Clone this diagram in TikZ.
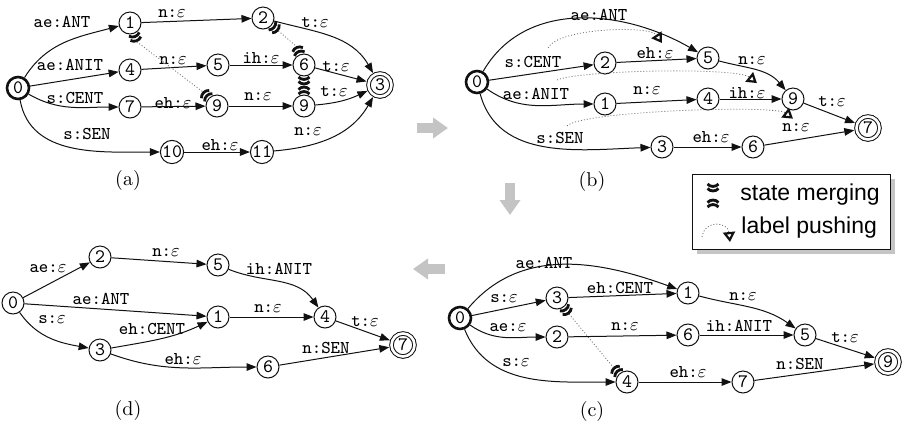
\documentclass[tikz,border=0pt]{standalone}
\usepackage{fontspec}
\newfontfamily\legendfont{Liberation Sans}
\usetikzlibrary{arrows.meta,calc,shadows}
\definecolor{FstInk}{HTML}{111111}
\definecolor{FstGrey}{HTML}{C4C4C4}
\definecolor{FstDots}{HTML}{6E6E6E}

% two bold arcs on the side of a state that gets merged
\newcommand{\statemerge}[2]{%
  \begin{scope}[shift={(#1)},rotate=#2]
    \draw[mergemark] (12,5.5) to[bend left=50] (12,-5.5);
    \draw[mergemark] (16.5,5.5) to[bend left=50] (16.5,-5.5);
  \end{scope}}

\begin{document}
\begin{tikzpicture}[
    x=0.5pt,
    y=0.5pt,
    st/.style={circle, draw=FstInk, line width=0.5pt, minimum size=11pt, inner sep=0pt, font=\fontsize{9.5}{10}\ttfamily},
    initst/.style={st, line width=1.3pt},
    finalst/.style={st, double, double distance=1.3pt, minimum size=11.5pt, outer sep=1.2pt},
    lbl/.style={inner sep=1pt, font=\fontsize{9}{9}\ttfamily},
    trans/.style={-{Triangle[length=5pt,width=3.8pt]}, line width=0.5pt, draw=FstInk},
    mergemark/.style={line width=1.4pt, draw=FstInk},
    mergeline/.style={draw=FstDots, line width=0.4pt, dash pattern=on 0.5pt off 1pt},
    push/.style={mergeline, -{Triangle[open,length=5pt,width=6pt,line width=1.1pt,color=FstInk]}},
    stage/.style={draw=FstGrey, line width=5pt, -{Triangle[length=7.5pt,width=10pt]}},
    panel/.style={inner sep=0pt, font=\fontsize{10}{12}\selectfont},
    legbox/.style={draw=FstInk, line width=0.5pt, fill=white, drop shadow={shadow xshift=2.5pt, shadow yshift=-2.5pt, fill=black!45}},
    legtext/.style={inner sep=0pt, anchor=base west, font=\legendfont\fontsize{11.5}{12}\selectfont}
  ]
  \useasboundingbox (0,0) rectangle (907,-425);

  % (a)
  \node[initst] (a0) at (18,-88) {0};
  \node[st] (a1) at (130,-23) {1};
  \node[st] (a2) at (263,-18) {2};
  \node[st] (a4) at (130,-70) {4};
  \node[st] (a5) at (218,-65) {5};
  \node[st] (a6) at (304,-65) {6};
  \node[st] (a7) at (130,-107) {7};
  \node[st] (a9) at (217,-106) {9};
  \node[st] (a9b) at (304,-106) {9};
  \node[finalst] (a3) at (380,-85) {3};
  \node[st] (a10) at (172,-152) {10};
  \node[st] (a11) at (262,-152) {11};

  \node[lbl] (aAnt) at (62,-22) {ae:ANT};
  \node[lbl] (aAnit) at (70,-65) {ae:ANIT};
  \node[lbl] (aCent) at (75,-98) {s:CENT};
  \node[lbl] (aSen) at (87,-134) {s:SEN};
  \node[lbl] (aN12) at (172,-14) {n:$\varepsilon$};
  \node[lbl] (aN45) at (173,-61) {n:$\varepsilon$};
  \node[lbl] (aEh79) at (173,-103) {eh:$\varepsilon$};
  \node[lbl] (aIh56) at (261,-58) {ih:$\varepsilon$};
  \node[lbl] (aT23) at (315,-23) {t:$\varepsilon$};
  \node[lbl] (aT63) at (336,-67) {t:$\varepsilon$};
  \node[lbl] (aN99) at (258,-97) {n:$\varepsilon$};
  \node[lbl] (aT93) at (334,-92) {t:$\varepsilon$};
  \node[lbl] (aEh1011) at (220,-145) {eh:$\varepsilon$};
  \node[lbl] (aN113) at (308,-132) {n:$\varepsilon$};

  \draw[trans] (a0) to[out=58,in=195] (a1);
  \draw[trans] (a0) -- (a4);
  \draw[trans] (a0) to[out=-30,in=180] (a7);
  \draw[trans] (a0) to[out=-80,in=180] (a10);
  \draw[trans] (a1) -- (a2);
  \draw[trans] (a4) -- (a5);
  \draw[trans] (a7) -- (a9);
  \draw[trans] (a5) -- (a6);
  \draw[trans] (a9) -- (a9b);
  \draw[trans] (a10) -- (a11);
  \draw[trans] (a2) to[out=-15,in=120] (a3);
  \draw[trans] (a6) -- (a3);
  \draw[trans] (a9b) to[out=5,in=205] (a3);
  \draw[trans] (a11) to[out=5,in=-120] (a3);

  \statemerge{a1}{-70}
  \statemerge{a9}{135}
  \draw[mergeline] ($(a1)+(-70:20)$) -- ($(a9)+(135:20)$);
  \statemerge{a2}{-40}
  \statemerge{a6}{112}
  \draw[mergeline] ($(a2)+(-40:20)$) -- ($(a6)+(112:20)$);
  \statemerge{a6}{-90}
  \statemerge{a9b}{90}

  % (b)
  \node[initst] (b0) at (477,-82) {0};
  \node[st] (b2) at (605,-63) {2};
  \node[st] (b1) at (605,-104) {1};
  \node[st] (b5) at (708,-58) {5};
  \node[st] (b4) at (708,-99) {4};
  \node[st] (b9) at (793,-99) {9};
  \node[finalst] (b7) at (868,-128) {7};
  \node[st] (b3) at (662,-147) {3};
  \node[st] (b6) at (753,-147) {6};

  \node[lbl] (bAnt) at (599,-15) {ae:ANT};
  \node[lbl] (bCent) at (533,-62) {s:CENT};
  \node[lbl] (bEh) at (655,-53) {eh:$\varepsilon$};
  \node[lbl] (bAnit) at (536,-94) {ae:ANIT};
  \node[lbl] (bN14) at (647,-91) {n:$\varepsilon$};
  \node[lbl] (bN59) at (752,-61) {n:$\varepsilon$};
  \node[lbl] (bIh) at (747,-93) {ih:$\varepsilon$};
  \node[lbl] (bT97) at (832,-102) {t:$\varepsilon$};
  \node[lbl] (bSen) at (560,-138) {s:SEN};
  \node[lbl] (bEh36) at (711,-137) {eh:$\varepsilon$};
  \node[lbl] (bN67) at (796,-128) {n:$\varepsilon$};

  \draw[trans] (b0) to[out=60,in=150] (b5);
  \draw[trans] (b0) -- (b2);
  \draw[trans] (b0) to[out=-35,in=180] (b1);
  \draw[trans] (b0) to[out=-75,in=182] (b3);
  \draw[trans] (b2) -- (b5);
  \draw[trans] (b1) -- (b4);
  \draw[trans] (b5) to[out=-15,in=130] (b9);
  \draw[trans] (b4) -- (b9);
  \draw[trans] (b9) -- (b7);
  \draw[trans] (b3) -- (b6);
  \draw[trans] (b6) -- (b7);

  \draw[push] ($(bCent.north)+(15,6)$) .. controls +(10,20) and +(-12,18) .. ($(bEh.north)+(7,2)$);
  \draw[push] ($(bAnit.north)+(21,6)$) .. controls +(25,10) and +(-20,16) .. ($(bIh.north)+(10,2)$);
  \draw[push] ($(bSen.north)+(7,4)$) .. controls +(15,15) and +(-18,14) .. ($(bN67.north)+(-3,3)$);

  % legend
  \draw[legbox] (692,-174) rectangle (890,-249);
  \coordinate (lgTop) at (713,-172);
  \coordinate (lgBot) at (713,-219);
  \statemerge{lgTop}{-90}
  \statemerge{lgBot}{90}
  \node[legtext] (lgMerge) at (740,-200) {state merging};
  \coordinate (lgPushA) at (702,-237);
  \coordinate (lgPushB) at (730,-242);
  \draw[push] (lgPushA) .. controls +(3,18) and +(-2,20) .. (lgPushB);
  \node[legtext] (lgPush) at (741,-233) {label pushing};

  % (c)
  \node[initst] (c0) at (460,-318) {0};
  \node[st] (c3) at (557,-298) {3};
  \node[st] (c2) at (557,-337) {2};
  \node[st] (c4) at (627,-382) {4};
  \node[st] (c1) at (688,-293) {1};
  \node[st] (c6) at (688,-335) {6};
  \node[st] (c5) at (805,-335) {5};
  \node[finalst] (c9) at (888,-362) {9};
  \node[st] (c7) at (743,-382) {7};

  \node[lbl] (cAnt) at (544,-263) {ae:ANT};
  \node[lbl] (cS03) at (504,-299) {s:$\varepsilon$};
  \node[lbl] (cCent) at (620,-288) {eh:CENT};
  \node[lbl] (cAe02) at (508,-328) {ae:$\varepsilon$};
  \node[lbl] (cN26) at (625,-327) {n:$\varepsilon$};
  \node[lbl] (cS04) at (516,-363) {s:$\varepsilon$};
  \node[lbl] (cEh47) at (688,-372) {eh:$\varepsilon$};
  \node[lbl] (cN15) at (743,-297) {n:$\varepsilon$};
  \node[lbl] (cIh65) at (739,-326) {ih:ANIT};
  \node[lbl] (cT59) at (845,-338) {t:$\varepsilon$};
  \node[lbl] (cSen79) at (800,-364) {n:SEN};

  \draw[trans] (c0) to[out=50,in=160] (c1);
  \draw[trans] (c0) -- (c3);
  \draw[trans] (c3) -- (c1);
  \draw[trans] (c0) to[out=-35,in=180] (c2);
  \draw[trans] (c2) -- (c6);
  \draw[trans] (c0) to[out=-68,in=180] (c4);
  \draw[trans] (c4) -- (c7);
  \draw[trans] (c1) to[out=-15,in=145] (c5);
  \draw[trans] (c6) -- (c5);
  \draw[trans] (c5) -- (c9);
  \draw[trans] (c7) -- (c9);

  \statemerge{c3}{-53}
  \statemerge{c4}{133}
  \draw[mergeline] ($(c3)+(-53:20)$) -- ($(c4)+(133:20)$);

  % (d)
  \node[st] (d0) at (13,-303) {0};
  \node[st] (d2) at (100,-257) {2};
  \node[st] (d5) at (218,-265) {5};
  \node[st] (d1) at (218,-317) {1};
  \node[st] (d3) at (100,-350) {3};
  \node[st] (d4) at (325,-317) {4};
  \node[finalst] (d7) at (403,-345) {7};
  \node[st] (d6) at (268,-367) {6};

  \node[lbl] (dAe02) at (48,-269) {ae:$\varepsilon$};
  \node[lbl] (dN25) at (166,-253) {n:$\varepsilon$};
  \node[lbl] (dAnt) at (101,-299) {ae:ANT};
  \node[lbl] (dS03) at (52,-320) {s:$\varepsilon$};
  \node[lbl] (dCent) at (152,-329) {eh:CENT};
  \node[lbl] (dEh36) at (183,-359) {eh:$\varepsilon$};
  \node[lbl] (dIh54) at (279,-269) {ih:ANIT};
  \node[lbl] (dN14) at (268,-309) {n:$\varepsilon$};
  \node[lbl] (dT47) at (365,-322) {t:$\varepsilon$};
  \node[lbl] (dSen67) at (326,-348) {n:SEN};

  \draw[trans] (d0) -- (d2);
  \draw[trans] (d2) -- (d5);
  \draw[trans] (d0) -- (d1);
  \draw[trans] (d0) to[out=-55,in=170] (d3);
  \draw[trans] (d3) to[out=10,in=-155] (d1);
  \draw[trans] (d3) to[out=-20,in=180] (d6);
  \draw[trans] (d5) to[out=-22,in=125] (d4);
  \draw[trans] (d1) -- (d4);
  \draw[trans] (d4) -- (d7);
  \draw[trans] (d6) -- (d7);

  % captions and stage arrows
  \node[panel] (capA) at (128,-180.5) {(a)};
  \node[panel] (capB) at (592,-181) {(b)};
  \node[panel] (capC) at (592,-411) {(c)};
  \node[panel] (capD) at (128,-410) {(d)};

  \coordinate (arrAB0) at (417,-128);
  \coordinate (arrAB1) at (448,-128);
  \coordinate (arrBC0) at (510,-183);
  \coordinate (arrBC1) at (510,-215);
  \coordinate (arrCD0) at (445,-269);
  \coordinate (arrCD1) at (413,-269);
  \draw[stage] (arrAB0) -- (arrAB1);
  \draw[stage] (arrBC0) -- (arrBC1);
  \draw[stage] (arrCD0) -- (arrCD1);
\end{tikzpicture}
\end{document}
